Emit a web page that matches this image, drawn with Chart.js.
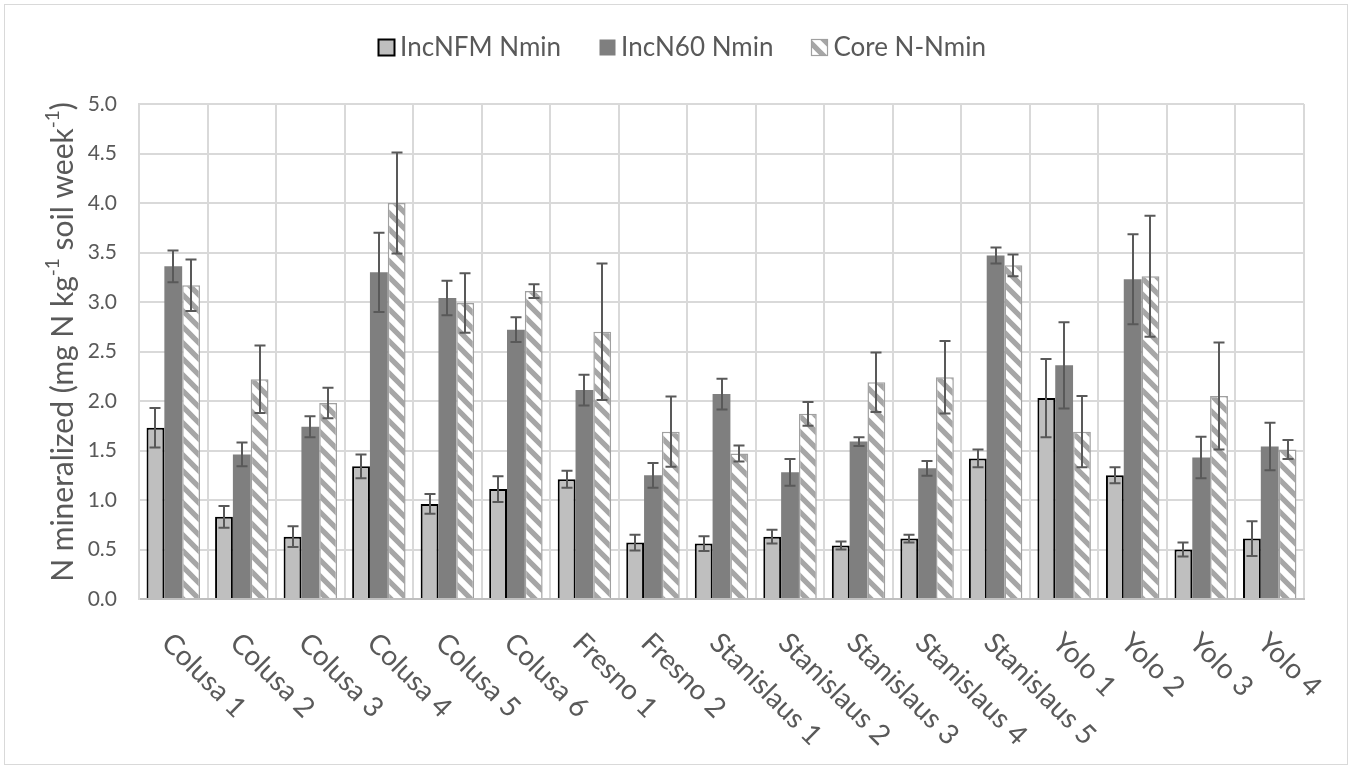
<!DOCTYPE html>
<html>
<head>
<meta charset="utf-8">
<title>N mineralized by site</title>
<script src="https://cdn.jsdelivr.net/npm/chart.js@4.4.1/dist/chart.umd.min.js"></script>
<style>
  html, body { margin: 0; padding: 0; background: #ffffff; }
  #wrap { position: relative; width: 1352px; height: 769px; }
  canvas { display: block; }
</style>
</head>
<body>
<div id="wrap"><canvas id="chart" width="1352" height="769"></canvas></div>
<script>
// Sites (x categories)
const sites = [
  'Colusa 1', 'Colusa 2', 'Colusa 3', 'Colusa 4', 'Colusa 5', 'Colusa 6',
  'Fresno 1', 'Fresno 2',
  'Stanislaus 1', 'Stanislaus 2', 'Stanislaus 3', 'Stanislaus 4', 'Stanislaus 5',
  'Yolo 1', 'Yolo 2', 'Yolo 3', 'Yolo 4'
];

// Series means and their error-bar half widths (mg N kg-1 soil week-1)
const incNFM    = [1.73, 0.83, 0.63, 1.34, 0.96, 1.11, 1.21, 0.57, 0.56, 0.63, 0.54, 0.61, 1.42, 2.03, 1.25, 0.50, 0.61];
const incNFMErr = [0.20, 0.11, 0.105, 0.12, 0.10, 0.13, 0.085, 0.08, 0.075, 0.07, 0.04, 0.04, 0.09, 0.395, 0.08, 0.07, 0.175];

const incN60    = [3.36, 1.46, 1.74, 3.30, 3.04, 2.72, 2.11, 1.25, 2.07, 1.28, 1.59, 1.32, 3.47, 2.36, 3.23, 1.43, 1.54];
const incN60Err = [0.16, 0.12, 0.105, 0.40, 0.175, 0.125, 0.155, 0.125, 0.155, 0.135, 0.045, 0.075, 0.08, 0.435, 0.455, 0.21, 0.24];

const coreN     = [3.17, 2.22, 1.98, 4.00, 2.99, 3.11, 2.70, 1.69, 1.47, 1.87, 2.19, 2.24, 3.37, 1.69, 3.26, 2.05, 1.51];
const coreNErr  = [0.26, 0.34, 0.155, 0.51, 0.30, 0.07, 0.69, 0.355, 0.08, 0.12, 0.30, 0.365, 0.11, 0.36, 0.61, 0.54, 0.095];

const seriesNames = ['IncNFM Nmin', 'IncN60 Nmin', 'Core N-Nmin'];

// Y axis range and step
const yMin = 0, yMax = 5, yStep = 0.5;

const FONT = 'Lato, "Open Sans", "DejaVu Sans", sans-serif';
const TEXT = '#595959';
const GRID = '#d9d9d9';

// Wide downward-diagonal hatch used for the core series
function makeHatch() {
  const p = 16;
  const c = document.createElement('canvas');
  c.width = p; c.height = p;
  const g = c.getContext('2d');
  g.fillStyle = '#ffffff';
  g.fillRect(0, 0, p, p);
  g.strokeStyle = '#a6a6a6';
  g.lineWidth = 5.2;
  g.beginPath();
  for (let k = -p; k <= p; k += p) {
    g.moveTo(k - 2, -2);
    g.lineTo(k + p + 2, p + 2);
  }
  g.stroke();
  return g.createPattern(c, 'repeat');
}

const ctxMain = document.getElementById('chart').getContext('2d');
const hatch = makeHatch();

const errors = [incNFMErr, incN60Err, coreNErr];

// White page with thin outer frame
const framePlugin = {
  id: 'frame',
  beforeDraw(chart) {
    const c = chart.ctx;
    c.save();
    c.fillStyle = '#ffffff';
    c.fillRect(0, 0, chart.width, chart.height);
    c.strokeStyle = '#d9d9d9';
    c.lineWidth = 1;
    c.strokeRect(4.5, 4.5, chart.width - 9, chart.height - 9);
    c.restore();
  }
};

// Symmetric error bars with caps
const errorBarPlugin = {
  id: 'errorBars',
  afterDatasetsDraw(chart) {
    const c = chart.ctx;
    const ys = chart.scales.y;
    c.save();
    c.strokeStyle = '#595959';
    c.lineWidth = 2;
    chart.data.datasets.forEach((ds, d) => {
      const meta = chart.getDatasetMeta(d);
      meta.data.forEach((bar, i) => {
        const v = ds.data[i], e = errors[d][i];
        const x = Math.round(bar.x);
        const yt = ys.getPixelForValue(v + e);
        const yb = ys.getPixelForValue(v - e);
        const cap = 5.5;
        c.beginPath();
        c.moveTo(x, yt); c.lineTo(x, yb);
        c.moveTo(x - cap, yt); c.lineTo(x + cap, yt);
        c.moveTo(x - cap, yb); c.lineTo(x + cap, yb);
        c.stroke();
      });
    });
    c.restore();
  }
};

// Legend, rotated category labels and y-axis title
const textPlugin = {
  id: 'texts',
  afterDraw(chart) {
    const c = chart.ctx;
    const xs = chart.scales.x;
    c.save();

    // Legend row
    c.font = '26px ' + FONT;
    c.textBaseline = 'middle';
    c.textAlign = 'left';
    const box = 16, boxGap = 6, itemGap = 38, ly = 47;
    const widths = seriesNames.map(s => c.measureText(s).width);
    const total = widths.reduce((a, w) => a + box + boxGap + w, 0) + itemGap * (seriesNames.length - 1);
    let lx = 682 - total / 2;
    chart.data.datasets.forEach((ds, d) => {
      const bx = Math.round(lx) + 0.5, by = Math.round(ly - box / 2) + 0.5;
      c.fillStyle = ds.backgroundColor;
      c.fillRect(bx, by, box, box);
      if (ds.borderWidth > 0) {
        c.strokeStyle = ds.borderColor;
        c.lineWidth = d === 0 ? 2 : 1.2;
        c.strokeRect(bx, by, box, box);
      }
      c.fillStyle = TEXT;
      c.fillText(ds.label, lx + box + boxGap, ly + 1);
      lx += box + boxGap + widths[d] + itemGap;
    });

    // Category labels, slanting down to the right
    c.font = '28px ' + FONT;
    c.fillStyle = TEXT;
    c.textAlign = 'left';
    c.textBaseline = 'middle';
    sites.forEach((s, i) => {
      const x = xs.getPixelForValue(i);
      c.save();
      c.translate(x - 7, 638);
      c.rotate(Math.PI / 4);
      c.fillText(s, 0, 0);
      c.restore();
    });

    // Y-axis title with superscripts
    const parts = [
      ['N mineralized (mg N kg', false],
      ['-1', true],
      [' soil week', false],
      ['-1', true],
      [')', false]
    ];
    const big = '30px ' + FONT, small = '19px ' + FONT;
    let tw = 0;
    parts.forEach(([t, sup]) => { c.font = sup ? small : big; tw += c.measureText(t).width; });
    c.translate(63, 342);
    c.rotate(-Math.PI / 2);
    let tx = -tw / 2;
    c.textAlign = 'left';
    c.textBaseline = 'middle';
    parts.forEach(([t, sup]) => {
      c.font = sup ? small : big;
      c.fillText(t, tx, sup ? -10 : 0);
      tx += c.measureText(t).width;
    });
    c.restore();
  }
};

new Chart(ctxMain, {
  type: 'bar',
  data: {
    labels: sites,
    datasets: [
      {
        label: seriesNames[0], data: incNFM,
        backgroundColor: '#bfbfbf', borderColor: '#000000', borderWidth: 2
      },
      {
        label: seriesNames[1], data: incN60,
        backgroundColor: '#7f7f7f', borderColor: '#7f7f7f', borderWidth: 0
      },
      {
        label: seriesNames[2], data: coreN,
        backgroundColor: hatch, borderColor: '#a0a0a0', borderWidth: 1.5
      }
    ]
  },
  options: {
    responsive: false,
    devicePixelRatio: 1,
    animation: false,
    events: [],
    layout: { padding: { top: 104, right: 48, bottom: 0, left: 0 } },
    datasets: { bar: { categoryPercentage: 0.78, barPercentage: 1.0 } },
    plugins: { legend: { display: false }, tooltip: { enabled: false }, title: { display: false } },
    scales: {
      x: {
        ticks: { display: false },
        grid: { color: GRID, lineWidth: 2, drawTicks: false, offset: true },
        border: { color: '#bfbfbf', width: 2 },
        afterFit(s) { s.height = 170; }
      },
      y: {
        min: yMin, max: yMax,
        ticks: {
          stepSize: yStep, padding: 22, color: TEXT,
          font: { family: FONT, size: 21 },
          callback: v => Number(v).toFixed(1)
        },
        grid: { color: GRID, lineWidth: 2, drawTicks: false },
        border: { color: GRID, width: 2 },
        afterFit(s) { s.width = 139; }
      }
    }
  },
  plugins: [framePlugin, errorBarPlugin, textPlugin]
});
</script>
</body>
</html>
